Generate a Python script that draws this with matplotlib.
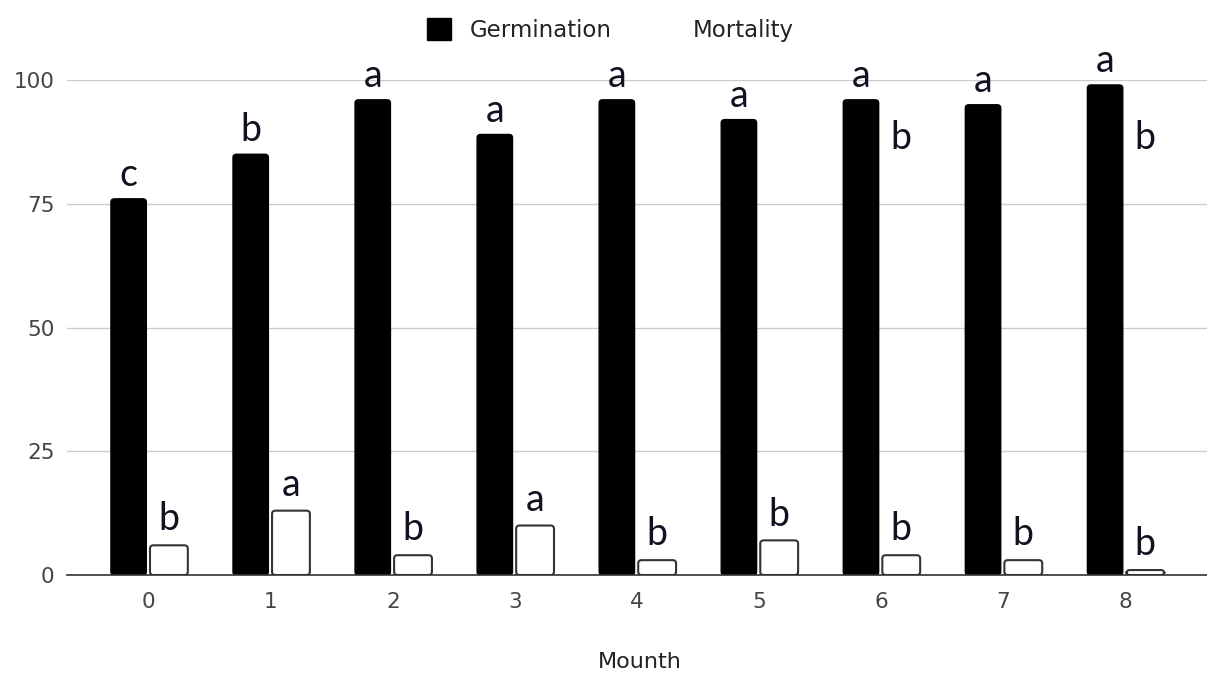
import matplotlib.pyplot as plt
from matplotlib.patches import FancyBboxPatch, Patch
import numpy as np

# monthly seed results (%)
months = ["0", "1", "2", "3", "4", "5", "6", "7", "8"]
germination = [76, 85, 96, 89, 96, 92, 96, 95, 99]
mortality = [6, 13, 4, 10, 3, 7, 4, 3, 1]
germ_letters = ["c", "b", "a", "a", "a", "a", "a", "a", "a"]
mort_letters = ["b", "a", "b", "a", "b", "b", "b", "b", "b"]
# extra letters sitting beside the germination bars of months 6 and 8
extra_idx = [6, 8]
extra_letters = ["b", "b"]
extra_y = 86

plt.rcParams['font.family'] = ['DejaVu Sans']

fig = plt.figure(figsize=(12.07, 6.73), dpi=100)
ax = fig.add_axes([0.0555, 0.1456, 0.9445, 0.7355])

x = np.arange(len(months))
off = 0.165
w = 0.29


def rounded_bars(xs, heights, width, face, edge, lw):
    # bars with slightly rounded corners (aspect corrected for the axes scale)
    for xi, h in zip(xs, heights):
        p = FancyBboxPatch((xi - width / 2, 0), width, h,
                           boxstyle="round,pad=0,rounding_size=0.028",
                           mutation_aspect=24, facecolor=face, edgecolor=edge,
                           linewidth=lw, zorder=3)
        ax.add_patch(p)


rounded_bars(x - off, germination, w, "black", "black", 1)
rounded_bars(x + off, mortality, w + 0.02, "white", "#333333", 1.5)

letter_font = dict(family=['Lato', 'DejaVu Sans'], fontsize=27, color="#111122",
                   ha="center", va="baseline", clip_on=False, zorder=4)
for i in range(len(months)):
    ax.text(x[i] - off, germination[i] + 2.6, germ_letters[i], **letter_font)
    ax.text(x[i] + off, mortality[i] + 3.0, mort_letters[i], **letter_font)
for i, s in zip(extra_idx, extra_letters):
    ax.text(x[i] + off, extra_y, s, **letter_font)

ax.set_xlim(-0.67, 8.67)
ax.set_ylim(0, 100)
ax.set_yticks([0, 25, 50, 75, 100])
ax.set_xticks(x)
ax.set_xticklabels(months)
ax.tick_params(length=0, labelsize=15.5, colors="#444444")
ax.tick_params(axis="x", pad=12)
ax.tick_params(axis="y", pad=9)
ax.grid(axis="y", color="#cccccc", linewidth=1, zorder=0)
for s in ["top", "right", "left"]:
    ax.spines[s].set_visible(False)
ax.spines["bottom"].set_color("#333333")
ax.spines["bottom"].set_linewidth(1.2)
ax.spines["bottom"].set_zorder(5)

fig.text(640 / 1207, 1 - 662 / 673, "Mounth", ha="center", va="center",
         fontsize=16, color="#222222")

handles = [Patch(facecolor="black", edgecolor="black", label="Germination"),
           Patch(facecolor="white", edgecolor="none", label="Mortality")]
leg = ax.legend(handles=handles, loc="center", bbox_to_anchor=(0.477, 1.101),
                ncol=2, frameon=False, fontsize=16.5, handlelength=1.05,
                handleheight=1.05, columnspacing=1.7, handletextpad=0.8,
                borderpad=0, borderaxespad=0)
for t in leg.get_texts():
    t.set_color("#222222")

fig.savefig("out.png", dpi=100)
